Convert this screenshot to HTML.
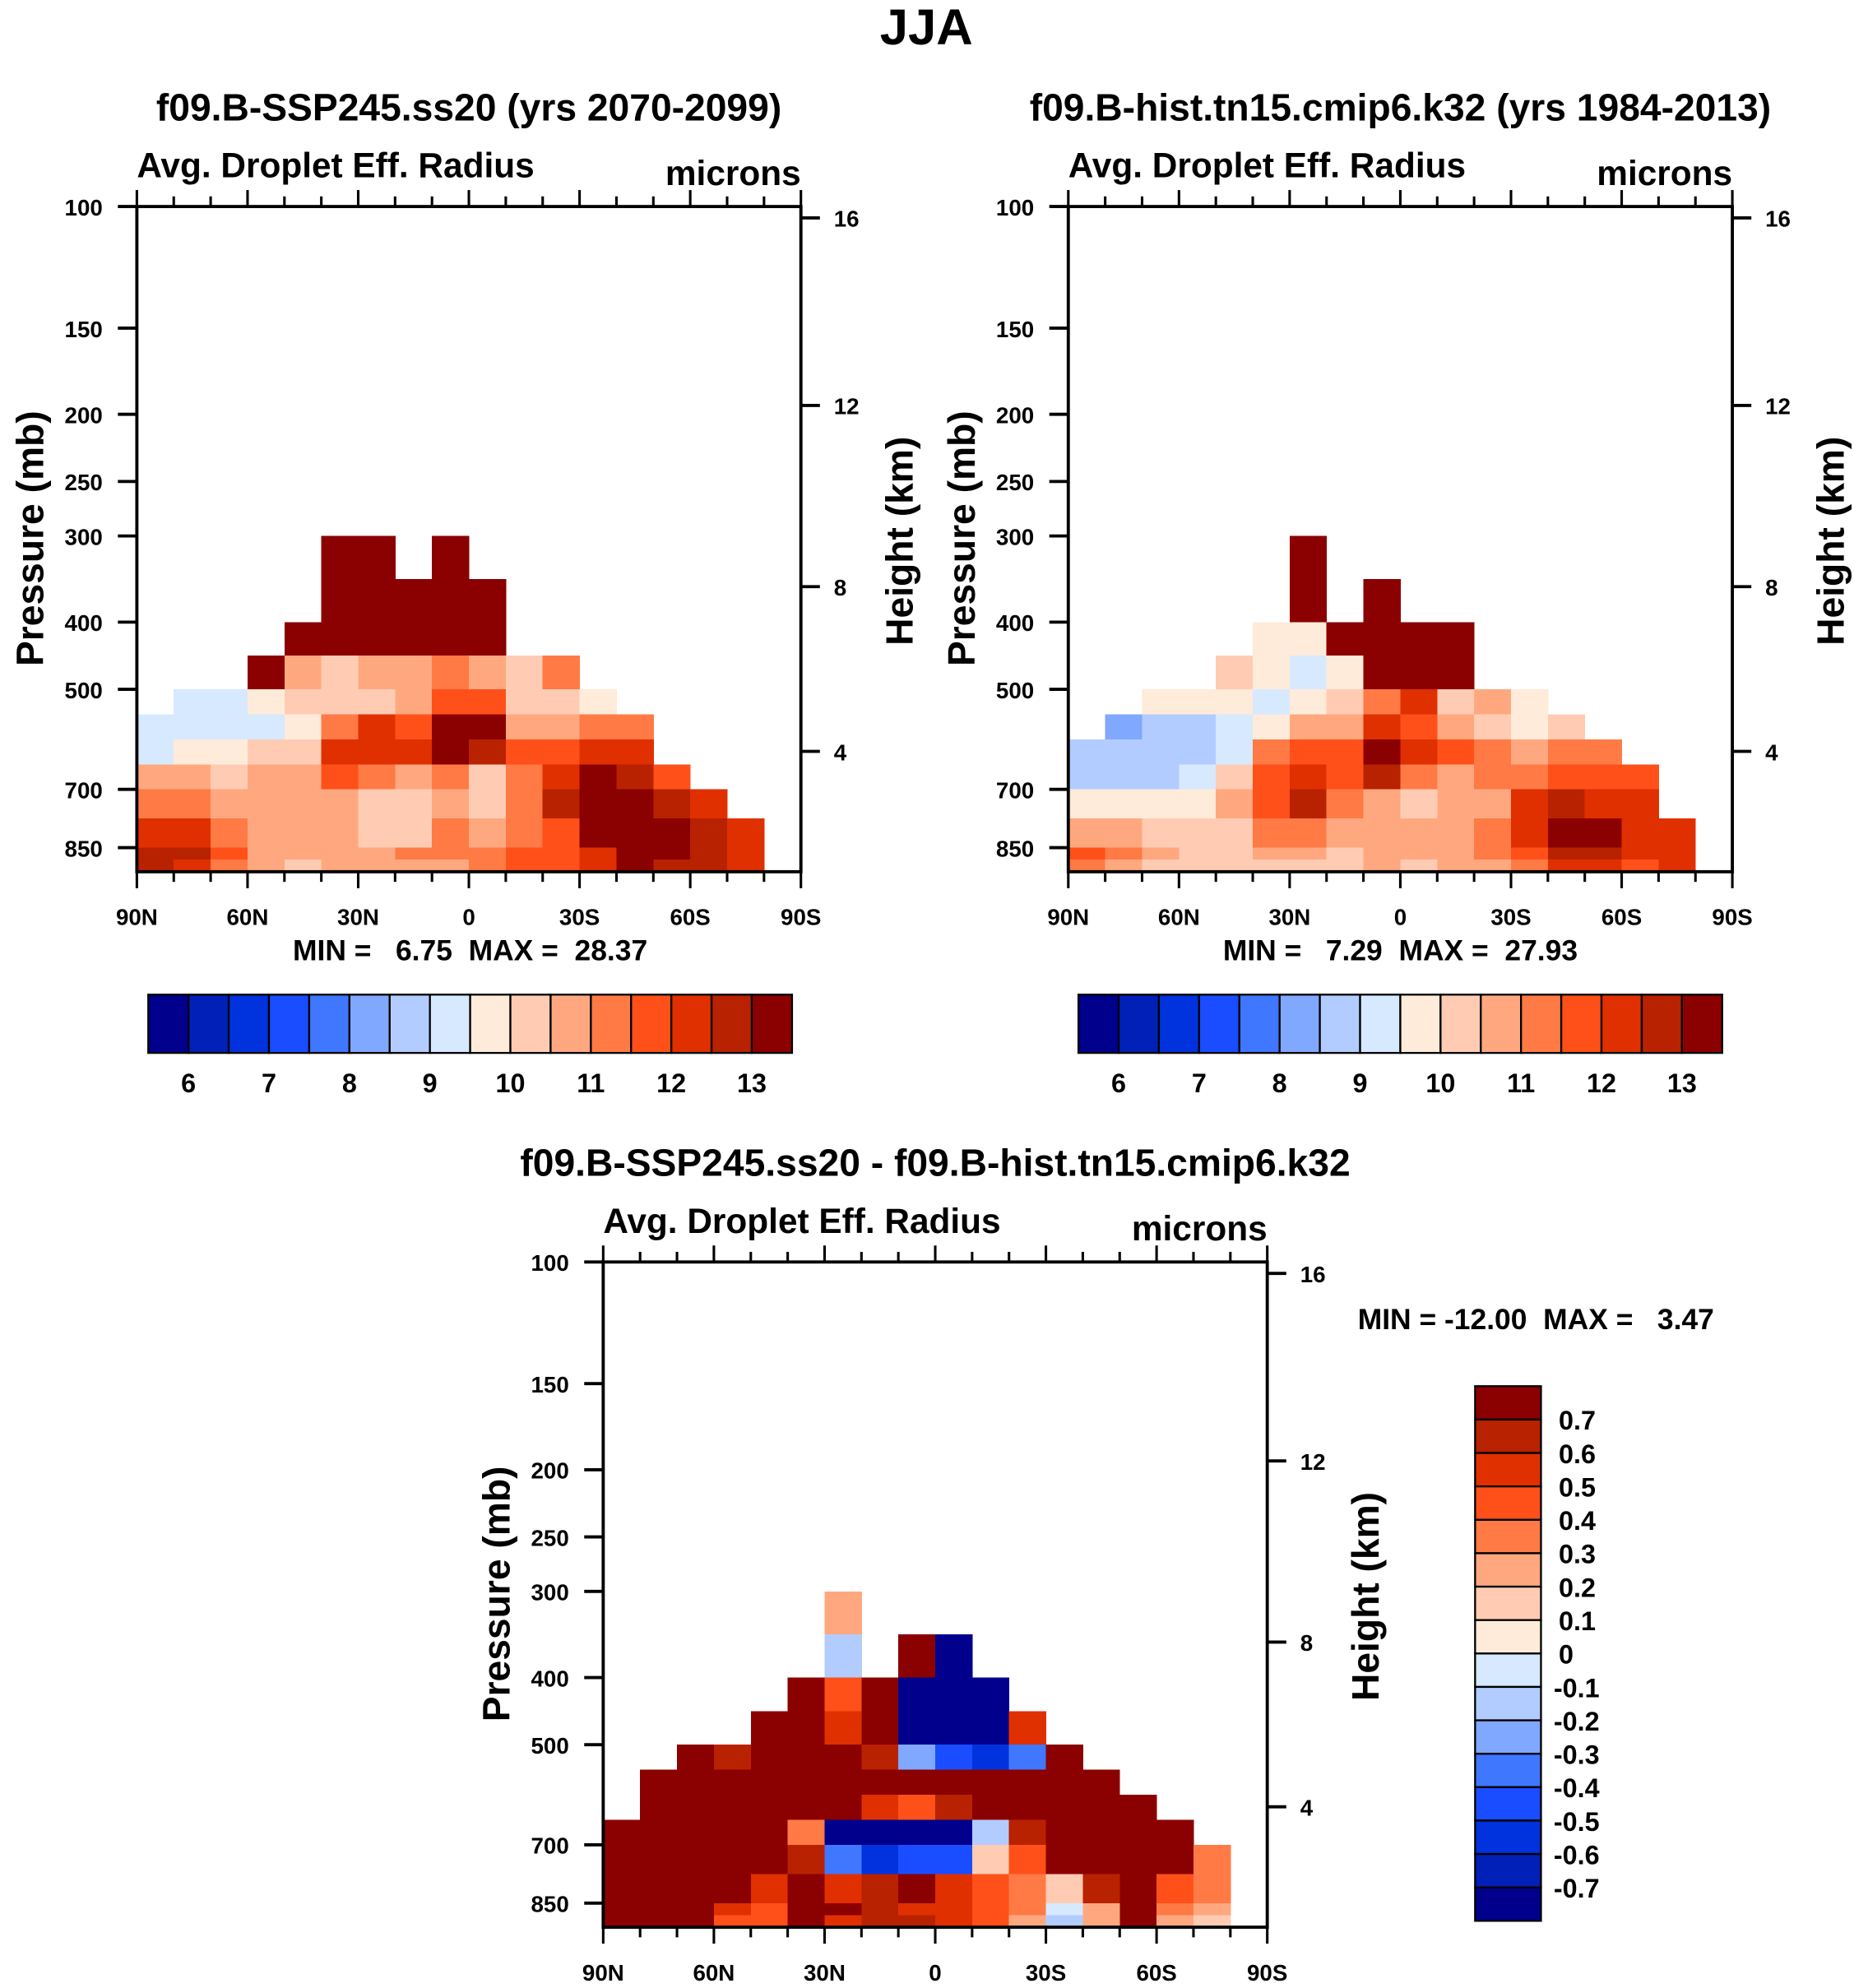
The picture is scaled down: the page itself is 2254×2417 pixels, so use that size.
<!DOCTYPE html>
<html><head><meta charset="utf-8"><style>
html,body{margin:0;padding:0;background:#fff}
svg{display:block}
text{font-family:"Liberation Sans",Arial,sans-serif;font-weight:bold;fill:#000;white-space:pre}
</style></head><body>
<svg id="fig" xmlns="http://www.w3.org/2000/svg" width="2254" height="2417" viewBox="0 0 1463 1569" preserveAspectRatio="none" xml:space="preserve">
<text x="731" y="35" font-size="40" text-anchor="middle">JJA</text>
<g id="root"></g>
</svg>
<script>
// ---- data ----
const absLevels = [6,6.5,7,7.5,8,8.5,9,9.5,10,10.5,11,11.5,12,12.5,13];
const absTickLabels = ["6","7","8","9","10","11","12","13"];
const diffLevels = [-0.7,-0.6,-0.5,-0.4,-0.3,-0.2,-0.1,0,0.1,0.2,0.3,0.4,0.5,0.6,0.7];
const diffTickLabels = ["0.7","0.6","0.5","0.4","0.3","0.2","0.1","0","-0.1","-0.2","-0.3","-0.4","-0.5","-0.6","-0.7"];
const palette = ["#00008c","#0020b8","#0033dd","#1a4dff","#4077ff","#80a8ff","#b3ccff","#d6e9ff","#ffebd9","#ffccb3","#ffa880","#ff7a45","#ff501a","#e03000","#b82200","#8b0000"];
const pressureEdges = [250,300,350,400,450,500,550,600,650,700,775,850,925,1000];
const latEdges = [90,80,70,60,50,40,30,20,10,0,-10,-20,-30,-40,-50,-60,-70,-80,-90];
const pTicks = [100,150,200,250,300,400,500,700,850];
const hTicks = [16,12,8,4];
const latTicks = ["90N","60N","30N","0","30S","60S","90S"];
const n = null;
// rows: pressure bands (top->bottom), columns: 90N..90S in 10 deg
const gridSSP = [
 [n,n,n,n,n,n,n,n,n,n,n,n,n,n,n,n,n,n],
 [n,n,n,n,n,14,14,n,14,n,n,n,n,n,n,n,n,n],
 [n,n,n,n,n,14,14,14,14,14,n,n,n,n,n,n,n,n],
 [n,n,n,n,14,14,14,14,14,14,n,n,n,n,n,n,n,n],
 [n,n,n,13.5,10.5,10.3,10.5,10.8,11,10.8,10.3,11,n,n,n,n,n,n],
 [n,9.2,9.3,9.6,10,10,10.3,10.5,11.5,11.8,10.3,10,9.5,n,n,n,n,n],
 [9,9,9.2,9.4,9.8,11,12,11.5,13.5,13.5,10.8,10.5,11,11,n,n,n,n],
 [9.3,9.5,9.6,10,10.3,12,12.3,12.2,13.2,12.5,11.5,11.5,12,12,n,n,n,n],
 [10.5,10.5,10.3,10.5,10.8,11.5,11,10.5,11,10.3,11,12,13.5,12.5,11.5,n,n,n],
 [11,11,10.8,10.6,10.8,10.8,10.3,10,10.8,10,11,12.5,13.5,14,12.5,12,n,n],
 [12.3,12,11.2,10.8,10.5,10.5,10,10.2,11,10.5,11.3,11.5,13,14,13.5,12.5,12,n],
 [12.8,12.8,11.5,10.8,10.5,10.8,10.8,11,11,11,11.5,11.5,12,13.5,13,12.5,12,n],
 [12.5,12,11,10.5,10.3,10.5,10.5,10.8,10.8,11,11.5,11.5,12,13,12.8,12.5,12,n]
];
const gridHist = [
 [n,n,n,n,n,n,n,n,n,n,n,n,n,n,n,n,n,n],
 [n,n,n,n,n,n,14,n,n,n,n,n,n,n,n,n,n,n],
 [n,n,n,n,n,n,14,n,14,n,n,n,n,n,n,n,n,n],
 [n,n,n,n,n,9.7,9.5,14,14,14,14,n,n,n,n,n,n,n],
 [n,n,n,n,10,9.5,9.3,9.5,14,14,14,n,n,n,n,n,n,n],
 [n,n,9.5,9.8,9.5,9.3,9.8,10,11,12,10.3,10.5,9.5,n,n,n,n,n],
 [n,8.3,8.5,8.8,9,9.8,10.5,10.8,12,11.5,10.8,10.3,9.5,10,n,n,n,n],
 [8.5,8.5,8.5,8.7,9.3,11,11.5,11.5,13.5,12,11.5,11,10.5,11,11,n,n,n],
 [8.8,8.8,8.8,9,10.2,11.5,12,11.5,12.5,11,10.8,11,11,11.5,11.5,11.5,n,n],
 [9.7,9.5,9.5,9.7,10.5,11.8,12.5,11.2,10.5,10.3,10.5,10.8,12,12.5,12,12,n,n],
 [10.8,10.5,10.3,10.2,10.3,11,11,10.5,10.5,10.5,10.8,11,12,13.5,13,12,12,n],
 [11.5,11,10.5,10.3,10.2,10.5,10.5,10.3,10.5,10.5,10.8,11,11.5,12.5,12.5,12,12,n],
 [11.2,10.8,10.3,10.2,10,10.3,10.3,10.3,10.5,10.3,10.5,10.8,11.3,12,12,11.8,12,n]
];
const gridDiff = [
 [n,n,n,n,n,n,n,n,n,n,n,n,n,n,n,n,n,n],
 [n,n,n,n,n,n,0.2,n,n,n,n,n,n,n,n,n,n,n],
 [n,n,n,n,n,n,-0.2,n,1,-0.9,n,n,n,n,n,n,n,n],
 [n,n,n,n,n,1,0.4,1,-0.8,-0.9,-0.9,n,n,n,n,n,n,n],
 [n,n,n,n,1,1,0.5,0.8,-0.9,-0.9,-0.9,0.5,n,n,n,n,n,n],
 [n,n,0.8,0.6,0.7,1,1,0.6,-0.3,-0.5,-0.6,-0.4,0.8,n,n,n,n,n],
 [n,0.8,0.9,1,1,1,1,1,1,1,1,1,1,1,n,n,n,n],
 [n,1,1,1,1,1,1,0.5,0.4,0.6,0.7,1,1,1,1,n,n,n],
 [1,1,1,1,1,0.3,-0.9,-0.9,-0.9,-0.9,-0.2,0.6,1,1,1,1,n,n],
 [1,1,1,1,1,0.6,-0.4,-0.6,-0.5,-0.5,0.1,0.4,1,1,1,1,0.3,n],
 [1,1,1,0.8,0.5,0.9,0.5,0.6,0.7,0.5,0.4,0.3,0.1,0.6,1,0.4,0.3,n],
 [1,1,1,0.5,0.45,1,0.7,0.6,0.5,0.5,0.4,0.3,-0.1,0.2,1,0.3,0.2,n],
 [1,1,0.8,0.4,0.45,1,0.5,0.6,0.6,0.5,0.4,0.2,-0.15,0.2,0.8,0.2,0.1,n]
];
// ---- drawing ----
const NS="http://www.w3.org/2000/svg";
const root=document.getElementById('root');
function mk(tag,attrs,parent){const e=document.createElementNS(NS,tag);for(const k in attrs)e.setAttribute(k,attrs[k]);(parent||root).appendChild(e);return e;}
const pAnchor=[[100,0],[150,96],[200,164],[250,217],[300,260],[400,328],[500,381],[700,460],[850,506],[1000,525]];
const hAnchor=[[16,9],[12,157],[8,300],[4,430]];
function pOff(p){for(let i=0;i<pAnchor.length-1;i++){const a=pAnchor[i],b=pAnchor[i+1];if(p<=b[0])return a[1]+(p-a[0])/(b[0]-a[0])*(b[1]-a[1]);}return 525;}
function hOff(h){for(const a of hAnchor)if(a[0]===h)return a[1];return 0;}
function colorIdx(v,levels){let i=0;while(i<levels.length&&v>=levels[i])i++;return i;}
function panel(x0,y0,title,grid,levels,label){
  const W=524,H=525;
  const g=mk('g',{});
  
  
  const t=mk('text',{x:x0+262,y:y0-68,'font-size':30,'text-anchor':'middle'},g);t.textContent=title;
  
  
  const s=mk('text',{x:x0,y:y0-23,'font-size':27.5},g);s.textContent='Avg. Droplet Eff. Radius';
  
  
  const u=mk('text',{x:x0+W,y:y0-17,'font-size':27.5,'text-anchor':'end'},g);u.textContent='microns';
  
  
  const cells=mk('g',{'shape-rendering':'crispEdges'},g);
  
  
  for(let r=0;r<grid.length;r++)for(let c=0;c<grid[r].length;c++){
    const v=grid[r][c];if(v===null)continue;
    const xa=x0+(90-latEdges[c])/180*W, xb=x0+(90-latEdges[c+1])/180*W;
    const ya=y0+pOff(pressureEdges[r]), yb=y0+pOff(pressureEdges[r+1]);
    const rc=mk('rect',{x:xa,y:ya,width:xb-xa+0.3,height:yb-ya+0.3,fill:palette[colorIdx(v,levels)]},cells);
    
    
  }
  const fr=mk('rect',{x:x0,y:y0,width:W,height:H,fill:'none',stroke:'#000','stroke-width':2.5},g);
  
  
  pTicks.forEach(p=>{const y=y0+pOff(p);
    const l=mk('line',{x1:x0-15,x2:x0,y1:y,y2:y,stroke:'#000','stroke-width':2.5},g);
    
    
    const tx=mk('text',{x:x0-27,y:y+7,'font-size':18,'text-anchor':'end'},g);tx.textContent=p;
    
    });
  hTicks.forEach(h=>{const y=y0+hOff(h);
    const l=mk('line',{x1:x0+W,x2:x0+W+15,y1:y,y2:y,stroke:'#000','stroke-width':2.5},g);
    
    
    const tx=mk('text',{x:x0+W+26,y:y+7,'font-size':18},g);tx.textContent=h;
    
    });
  for(let i=0;i<=18;i++){const x=x0+i*W/18,len=i%3===0?13:8;
    const a=mk('line',{x1:x,x2:x,y1:y0-len,y2:y0,stroke:'#000','stroke-width':2},g);
    
    
    const b=mk('line',{x1:x,x2:x,y1:y0+H,y2:y0+H+len,stroke:'#000','stroke-width':2},g);
    
    }
  latTicks.forEach((lb,i)=>{const tx=mk('text',{x:x0+i*W/6,y:y0+H+42,'font-size':18,'text-anchor':'middle'},g);tx.textContent=lb;
    
    });
  const py=mk('text',{x:0,y:0,'font-size':30,'text-anchor':'middle',transform:`translate(${x0-74},${y0+262}) rotate(-90)`},g);py.textContent='Pressure (mb)';
  
  
  const hy=mk('text',{x:0,y:0,'font-size':30,'text-anchor':'middle',transform:`translate(${x0+W+88},${y0+264}) rotate(-90)`},g);hy.textContent='Height (km)';
  
  
}
function hbar(x0,y0,label,minmax){
  const w=508/16;
  for(let i=0;i<16;i++){const r=mk('rect',{x:x0+i*w,y:y0,width:w,height:46,fill:palette[i],stroke:'#000','stroke-width':1.5});
    
    }
  absTickLabels.forEach((lb,i)=>{const t=mk('text',{x:x0+(1+2*i)*w,y:y0+77,'font-size':21,'text-anchor':'middle'});t.textContent=lb;
    
    });
  const m=mk('text',{x:x0+254,y:y0-27,'font-size':23,'text-anchor':'middle'});m.textContent=minmax;
  
  
}
panel(108,163,'f09.B-SSP245.ss20 (yrs 2070-2099)',gridSSP,absLevels,'ssp245');
panel(843,163,'f09.B-hist.tn15.cmip6.k32 (yrs 1984-2013)',gridHist,absLevels,'historical');
panel(476,996,'f09.B-SSP245.ss20 - f09.B-hist.tn15.cmip6.k32',gridDiff,diffLevels,'difference');
hbar(117,785,'ssp245','MIN =   6.75  MAX =  28.37');
hbar(851,785,'historical','MIN =   7.29  MAX =  27.93');
// vertical diff colorbar
(function(){const x0=1164,y0=1094,h=422/16;
  for(let i=0;i<16;i++){const r=mk('rect',{x:x0,y:y0+i*h,width:52,height:h,fill:palette[15-i],stroke:'#000','stroke-width':1.5});
    
    }
  diffTickLabels.forEach((lb,i)=>{const t=mk('text',{x:lb.startsWith('-')?x0+62:x0+66,y:y0+(i+1)*h+8,'font-size':21});t.textContent=lb;
    
    });
  const m=mk('text',{x:1212,y:1049,'font-size':23,'text-anchor':'middle'});m.textContent='MIN = -12.00  MAX =   3.47';
  
  
})();
</script>
</body></html>
